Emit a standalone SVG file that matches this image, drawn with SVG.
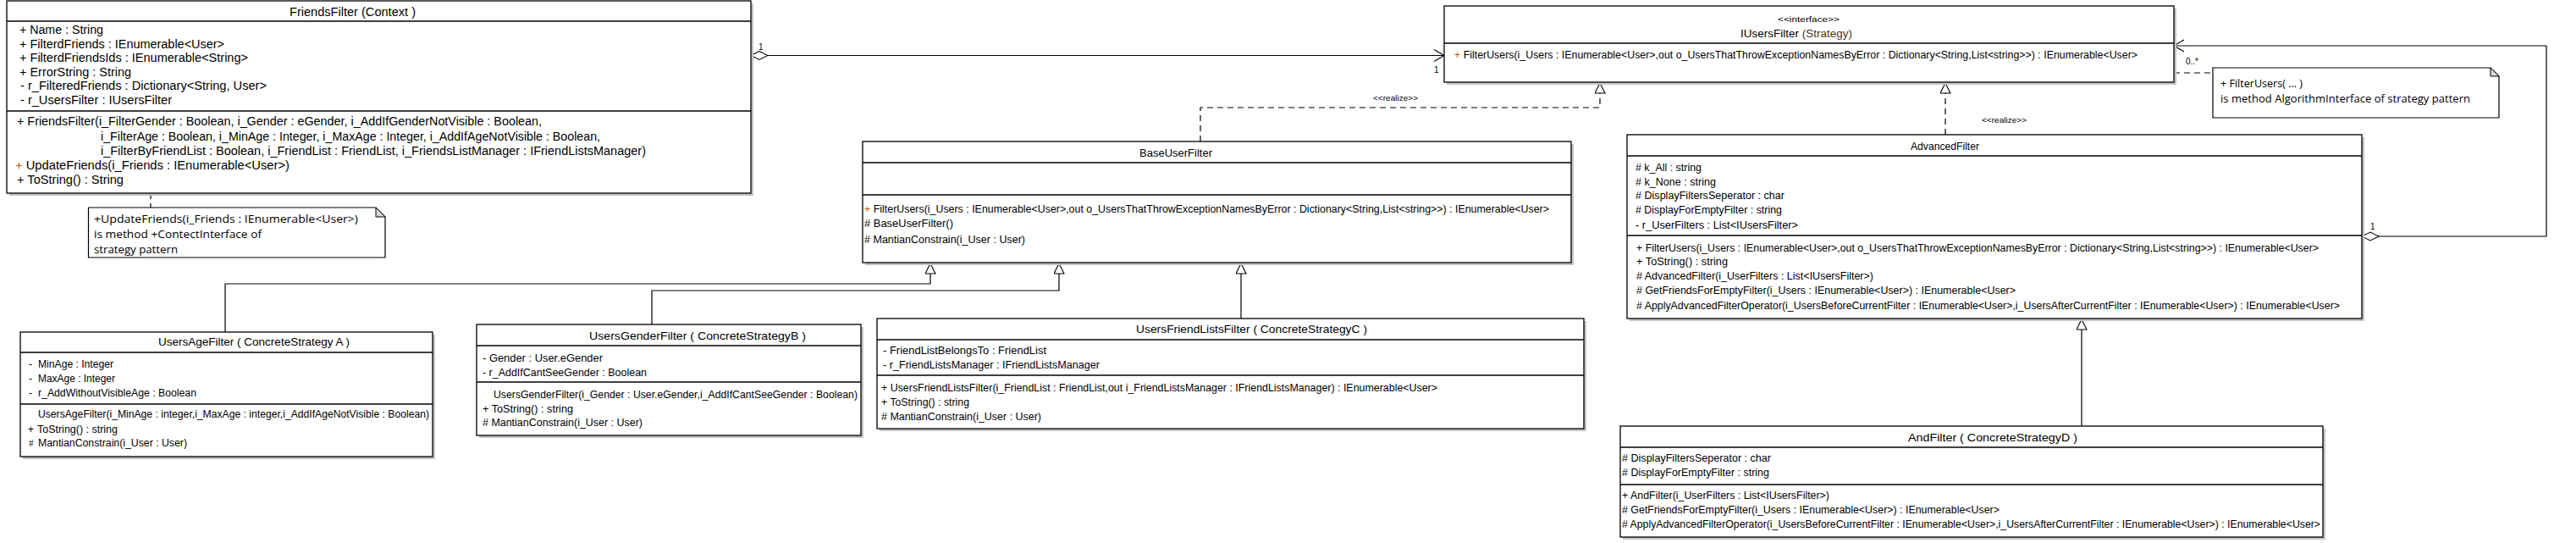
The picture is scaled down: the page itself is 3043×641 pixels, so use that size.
<svg xmlns="http://www.w3.org/2000/svg" width="3043" height="641" viewBox="0 0 3043 641">
<style>
  text { font-family: "Liberation Sans", Arial, sans-serif; font-size: 12px; fill: #000; }
  .box { fill: #fff; stroke: #000; stroke-width: 1.3; }
  .sh { fill: #c4c4c4; stroke: none; }
  .div { stroke: #000; stroke-width: 1.3; fill: none; }
  .ff { font-size: 14px; }
  .ttl { text-anchor: middle; font-size: 12.5px; }
  .st { font-size: 9.5px; }
  .note { fill: #fff; stroke: #000; stroke-width: 1.2; }
  .fold { fill: #d8d8d8; stroke: #000; stroke-width: 1; }
  .nt { font-family: "Open Sans", "Noto Sans", sans-serif; font-size: 13px; }
  .ln { fill: none; stroke: #000; stroke-width: 1.2; }
  .dl { fill: none; stroke: #000; stroke-width: 1.2; stroke-dasharray: 7 5; }
  .or { fill: #c05a00; }
  .br { fill: #4a3418; }
</style>
<defs>
  <marker id="tri" markerUnits="userSpaceOnUse" markerWidth="14" markerHeight="14" refX="13" refY="6.5" orient="auto">
    <path d="M1,0.5 L13,6.5 L1,12.5 z" fill="#fff" stroke="#000" stroke-width="1.1"/>
  </marker>
  <marker id="open" markerUnits="userSpaceOnUse" markerWidth="15" markerHeight="16" refX="13" refY="8" orient="auto">
    <path d="M1,1 L13,8 L1,15" fill="none" stroke="#000" stroke-width="1.1"/>
  </marker>
  <marker id="dia" markerUnits="userSpaceOnUse" markerWidth="22" markerHeight="12" refX="1" refY="6" orient="auto">
    <path d="M1,6 L11,1 L21,6 L11,11 z" fill="#fff" stroke="#000" stroke-width="1.1"/>
  </marker>
</defs>

<g id="connectors">
  <path class="ln" d="M887,65.5 L1706,65.5" marker-start="url(#dia)" marker-end="url(#open)"/>
  <text x="896" y="59" style="font-size:10px">1</text>
  <text x="1694" y="86" style="font-size:10px">1</text>
  <path class="ln" d="M2790,279 L3008,279 L3008,54 L2568,54" marker-start="url(#dia)" marker-end="url(#open)"/>
  <text x="2800" y="271" style="font-size:10px">1</text>
  <text x="2582" y="76" style="font-size:10px">0..*</text>
  <path class="dl" d="M2568,86 L2614,86"/>
  <path class="dl" d="M178,228 L178,245"/>
  <path class="dl" d="M1418,167 L1418,127 L1890,127 L1890,98" marker-end="url(#tri)"/>
  <text class="st" x="1622" y="119" textLength="53" lengthAdjust="spacingAndGlyphs">&lt;&lt;realize&gt;&gt;</text>
  <path class="dl" d="M2298,159 L2298,98" marker-end="url(#tri)"/>
  <text class="st" x="2341" y="145" textLength="53" lengthAdjust="spacingAndGlyphs">&lt;&lt;realize&gt;&gt;</text>
  <path class="ln" d="M266,392 L266,335 L1099,335 L1099,311" marker-end="url(#tri)"/>
  <path class="ln" d="M770,383 L770,343 L1251,343 L1251,311" marker-end="url(#tri)"/>
  <path class="ln" d="M1466,376 L1466,311" marker-end="url(#tri)"/>
  <path class="ln" d="M2459,503 L2459,377" marker-end="url(#tri)"/>
</g>

<g id="FriendsFilter">
  <rect class="sh" x="11" y="4" width="879" height="227"/>
  <rect class="box" x="8" y="1" width="879" height="227"/>
  <line class="div" x1="8" y1="25" x2="887" y2="25"/>
  <line class="div" x1="8" y1="131" x2="887" y2="131"/>
  <text class="ff" x="342" y="19" textLength="149" lengthAdjust="spacingAndGlyphs">FriendsFilter  (Context )</text>
  <text class="ff" x="23" y="40" textLength="99" lengthAdjust="spacingAndGlyphs">+ Name : String</text>
  <text class="ff" x="23" y="57" textLength="242" lengthAdjust="spacingAndGlyphs">+ FilterdFriends : IEnumerable&lt;User&gt;</text>
  <text class="ff" x="23" y="73" textLength="270" lengthAdjust="spacingAndGlyphs">+ FilterdFriendsIds : IEnumerable&lt;String&gt;</text>
  <text class="ff" x="23" y="90" textLength="132" lengthAdjust="spacingAndGlyphs">+ ErrorString : String</text>
  <text class="ff" x="24" y="106" textLength="291" lengthAdjust="spacingAndGlyphs">- r_FilteredFriends : Dictionary&lt;String, User&gt;</text>
  <text class="ff" x="24" y="123" textLength="179" lengthAdjust="spacingAndGlyphs">- r_UsersFilter : IUsersFilter</text>
  <text class="ff" x="20" y="148" textLength="620" lengthAdjust="spacingAndGlyphs">+ FriendsFilter(i_FilterGender : Boolean, i_Gender : eGender, i_AddIfGenderNotVisible : Boolean,</text>
  <text class="ff" x="119" y="166" textLength="590" lengthAdjust="spacingAndGlyphs">i_FilterAge : Boolean, i_MinAge : Integer, i_MaxAge : Integer, i_AddIfAgeNotVisible : Boolean,</text>
  <text class="ff" x="119" y="183" textLength="644" lengthAdjust="spacingAndGlyphs">i_FilterByFriendList : Boolean, i_FriendList : FriendList, i_FriendsListManager : IFriendListsManager)</text>
  <text class="ff" x="18" y="200" textLength="324" lengthAdjust="spacingAndGlyphs"><tspan class="or">+</tspan> UpdateFriends(i_Friends : IEnumerable&lt;User&gt;)</text>
  <text class="ff" x="20" y="217" textLength="126" lengthAdjust="spacingAndGlyphs">+ ToString() : String</text>
</g>

<g id="NoteUpdateFriends">
  <path class="note" d="M104.5,245 L444,245 L455,256 L455,304 L104.5,304 z"/>
  <path class="fold" d="M444,245 L455,256 L444,256 z"/>
  <text class="nt" x="111" y="263" textLength="312" lengthAdjust="spacingAndGlyphs">+UpdateFriends(i_Friends : IEnumerable&lt;User&gt;)</text>
  <text class="nt" x="111" y="281" textLength="198" lengthAdjust="spacingAndGlyphs">is method  +ContectInterface  of</text>
  <text class="nt" x="111" y="299" textLength="99" lengthAdjust="spacingAndGlyphs">strategy pattern</text>
</g>

<g id="IUsersFilter">
  <rect class="sh" x="1709" y="10" width="862" height="90"/>
  <rect class="box" x="1706" y="7" width="862" height="90"/>
  <line class="div" x1="1706" y1="51" x2="2568" y2="51"/>
  <text class="st" x="2100" y="26" textLength="73" lengthAdjust="spacingAndGlyphs">&lt;&lt;interface&gt;&gt;</text>
  <text x="2056" y="44" textLength="132" lengthAdjust="spacingAndGlyphs" style="font-size:12.5px">IUsersFilter  <tspan class="br">(Strategy)</tspan></text>
  <text x="1718" y="69" textLength="807" lengthAdjust="spacingAndGlyphs"><tspan class="or">+</tspan> FilterUsers(i_Users : IEnumerable&lt;User&gt;,out o_UsersThatThrowExceptionNamesByError : Dictionary&lt;String,List&lt;string&gt;&gt;) : IEnumerable&lt;User&gt;</text>
</g>

<g id="NoteFilterUsers">
  <path class="note" d="M2614,80 L2942,80 L2952,90 L2952,139 L2614,139 z"/>
  <path class="fold" d="M2942,80 L2952,90 L2942,90 z"/>
  <text class="nt" x="2623" y="103" textLength="97" lengthAdjust="spacingAndGlyphs">+ FilterUsers( ... )</text>
  <text class="nt" x="2623" y="121" textLength="295" lengthAdjust="spacingAndGlyphs">is method AlgorithmInterface  of  strategy pattern</text>
</g>

<g id="BaseUserFilter">
  <rect class="sh" x="1022" y="170" width="837" height="143"/>
  <rect class="box" x="1019" y="167" width="837" height="143"/>
  <line class="div" x1="1019" y1="192" x2="1856" y2="192"/>
  <line class="div" x1="1019" y1="230" x2="1856" y2="230"/>
  <text x="1346" y="185" textLength="86" lengthAdjust="spacingAndGlyphs" style="font-size:12.5px">BaseUserFilter</text>
  <text x="1021" y="251" textLength="809" lengthAdjust="spacingAndGlyphs"><tspan class="or">+</tspan> FilterUsers(i_Users : IEnumerable&lt;User&gt;,out o_UsersThatThrowExceptionNamesByError : Dictionary&lt;String,List&lt;string&gt;&gt;) : IEnumerable&lt;User&gt;</text>
  <text x="1021" y="268" textLength="105" lengthAdjust="spacingAndGlyphs"># BaseUserFilter()</text>
  <text x="1021" y="287" textLength="190" lengthAdjust="spacingAndGlyphs"># MantianConstrain(i_User : User)</text>
</g>

<g id="AdvancedFilter">
  <rect class="sh" x="1925" y="162" width="868" height="217"/>
  <rect class="box" x="1922" y="159" width="868" height="217"/>
  <line class="div" x1="1922" y1="184" x2="2790" y2="184"/>
  <line class="div" x1="1922" y1="278" x2="2790" y2="278"/>
  <text x="2257" y="177" textLength="81" lengthAdjust="spacingAndGlyphs" style="font-size:12.5px">AdvancedFilter</text>
  <text x="1932" y="202" textLength="78" lengthAdjust="spacingAndGlyphs"># k_All : string</text>
  <text x="1932" y="219" textLength="95" lengthAdjust="spacingAndGlyphs"># k_None : string</text>
  <text x="1932" y="235" textLength="176" lengthAdjust="spacingAndGlyphs"># DisplayFiltersSeperator : char</text>
  <text x="1932" y="252" textLength="173" lengthAdjust="spacingAndGlyphs"># DisplayForEmptyFilter : string</text>
  <text x="1932" y="270" textLength="192" lengthAdjust="spacingAndGlyphs">- r_UserFilters : List&lt;IUsersFilter&gt;</text>
  <text x="1933" y="297" textLength="806" lengthAdjust="spacingAndGlyphs">+ FilterUsers(i_Users : IEnumerable&lt;User&gt;,out o_UsersThatThrowExceptionNamesByError : Dictionary&lt;String,List&lt;string&gt;&gt;) : IEnumerable&lt;User&gt;</text>
  <text x="1933" y="313" textLength="108" lengthAdjust="spacingAndGlyphs">+ ToString() : string</text>
  <text x="1933" y="330" textLength="280" lengthAdjust="spacingAndGlyphs"># AdvancedFilter(i_UserFilters : List&lt;IUsersFilter&gt;)</text>
  <text x="1933" y="347" textLength="448" lengthAdjust="spacingAndGlyphs"># GetFriendsForEmptyFilter(i_Users : IEnumerable&lt;User&gt;) : IEnumerable&lt;User&gt;</text>
  <text x="1933" y="365" textLength="831" lengthAdjust="spacingAndGlyphs"># ApplyAdvancedFilterOperator(i_UsersBeforeCurrentFilter : IEnumerable&lt;User&gt;,i_UsersAfterCurrentFilter : IEnumerable&lt;User&gt;) : IEnumerable&lt;User&gt;</text>
</g>

<g id="UsersAgeFilter">
  <rect class="sh" x="27" y="395" width="487" height="147"/>
  <rect class="box" x="24" y="392" width="487" height="147"/>
  <line class="div" x1="24" y1="416" x2="511" y2="416"/>
  <line class="div" x1="24" y1="477" x2="511" y2="477"/>
  <text x="187" y="408" textLength="226" lengthAdjust="spacingAndGlyphs" style="font-size:13px">UsersAgeFilter  ( ConcreteStrategy A  )</text>
  <text x="34" y="434">-</text><text x="45" y="434" textLength="89" lengthAdjust="spacingAndGlyphs">MinAge : Integer</text>
  <text x="34" y="451">-</text><text x="45" y="451" textLength="91" lengthAdjust="spacingAndGlyphs">MaxAge : Integer</text>
  <text x="34" y="468">-</text><text x="45" y="468" textLength="187" lengthAdjust="spacingAndGlyphs">r_AddWithoutVisibleAge : Boolean</text>
  <text x="45" y="493" textLength="462" lengthAdjust="spacingAndGlyphs">UsersAgeFilter(i_MinAge : integer,i_MaxAge : integer,i_AddIfAgeNotVisible : Boolean)</text>
  <text x="33" y="511">+</text><text x="44" y="511" textLength="95" lengthAdjust="spacingAndGlyphs">ToString() : string</text>
  <text x="34" y="527" style="font-size:10px">#</text><text x="45" y="527" textLength="176" lengthAdjust="spacingAndGlyphs">MantianConstrain(i_User : User)</text>
</g>

<g id="UsersGenderFilter">
  <rect class="sh" x="566" y="386" width="454" height="131"/>
  <rect class="box" x="563" y="383" width="454" height="131"/>
  <line class="div" x1="563" y1="408" x2="1017" y2="408"/>
  <line class="div" x1="563" y1="451" x2="1017" y2="451"/>
  <text x="696" y="401" textLength="256" lengthAdjust="spacingAndGlyphs" style="font-size:13px">UsersGenderFilter  ( ConcreteStrategyB  )</text>
  <text x="570" y="427" textLength="142" lengthAdjust="spacingAndGlyphs">- Gender : User.eGender</text>
  <text x="570" y="444" textLength="194" lengthAdjust="spacingAndGlyphs">- r_AddIfCantSeeGender : Boolean</text>
  <text x="583" y="470" textLength="430" lengthAdjust="spacingAndGlyphs">UsersGenderFilter(i_Gender : User.eGender,i_AddIfCantSeeGender : Boolean)</text>
  <text x="570" y="487" textLength="107" lengthAdjust="spacingAndGlyphs">+ ToString() : string</text>
  <text x="570" y="503" textLength="189" lengthAdjust="spacingAndGlyphs"># MantianConstrain(i_User : User)</text>
</g>

<g id="UsersFriendListsFilter">
  <rect class="sh" x="1039" y="379" width="835" height="130"/>
  <rect class="box" x="1036" y="376" width="835" height="130"/>
  <line class="div" x1="1036" y1="401" x2="1871" y2="401"/>
  <line class="div" x1="1036" y1="443" x2="1871" y2="443"/>
  <text x="1342" y="393" textLength="273" lengthAdjust="spacingAndGlyphs" style="font-size:13px">UsersFriendListsFilter  ( ConcreteStrategyC  )</text>
  <text x="1043" y="418" textLength="193" lengthAdjust="spacingAndGlyphs">- FriendListBelongsTo : FriendList</text>
  <text x="1043" y="435" textLength="256" lengthAdjust="spacingAndGlyphs">- r_FriendListsManager : IFriendListsManager</text>
  <text x="1041" y="462" textLength="657" lengthAdjust="spacingAndGlyphs">+ UsersFriendListsFilter(i_FriendList : FriendList,out i_FriendListsManager : IFriendListsManager) : IEnumerable&lt;User&gt;</text>
  <text x="1041" y="479" textLength="104" lengthAdjust="spacingAndGlyphs">+ ToString() : string</text>
  <text x="1041" y="496" textLength="189" lengthAdjust="spacingAndGlyphs"># MantianConstrain(i_User : User)</text>
</g>

<g id="AndFilter">
  <rect class="sh" x="1917" y="506" width="830" height="131"/>
  <rect class="box" x="1914" y="503" width="830" height="131"/>
  <line class="div" x1="1914" y1="528" x2="2744" y2="528"/>
  <line class="div" x1="1914" y1="572" x2="2744" y2="572"/>
  <text x="2254" y="521" textLength="200" lengthAdjust="spacingAndGlyphs" style="font-size:13px">AndFilter  ( ConcreteStrategyD  )</text>
  <text x="1916" y="545" textLength="176" lengthAdjust="spacingAndGlyphs"># DisplayFiltersSeperator : char</text>
  <text x="1916" y="562" textLength="174" lengthAdjust="spacingAndGlyphs"># DisplayForEmptyFilter : string</text>
  <text x="1916" y="589" textLength="245" lengthAdjust="spacingAndGlyphs">+ AndFilter(i_UserFilters : List&lt;IUsersFilter&gt;)</text>
  <text x="1916" y="606" textLength="446" lengthAdjust="spacingAndGlyphs"># GetFriendsForEmptyFilter(i_Users : IEnumerable&lt;User&gt;) : IEnumerable&lt;User&gt;</text>
  <text x="1916" y="623" textLength="825" lengthAdjust="spacingAndGlyphs"># ApplyAdvancedFilterOperator(i_UsersBeforeCurrentFilter : IEnumerable&lt;User&gt;,i_UsersAfterCurrentFilter : IEnumerable&lt;User&gt;) : IEnumerable&lt;User&gt;</text>
</g>
</svg>
